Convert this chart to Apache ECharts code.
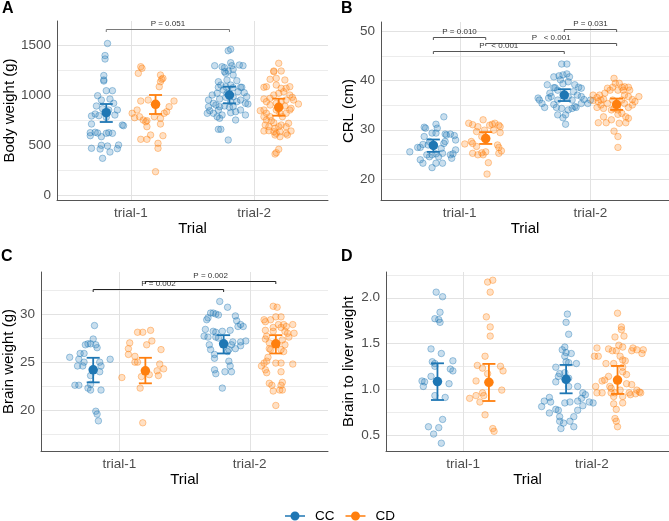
<!DOCTYPE html>
<html><head><meta charset="utf-8">
<script src="https://cdn.jsdelivr.net/npm/echarts@6/dist/echarts.min.js"></script>
<style>html,body{margin:0;padding:0;background:#fff}#c{width:669px;height:521px}</style>
</head><body><div id="c"></div>
<script>
const categories = ['trial-1', 'trial-2'];
const groups = ['CC', 'CD'];

// ---- Panel A: Body weight (g) ---- points are [jitter, value]
const A_CC_1 = [[0.01,1515],[-0.01,1395],[-0.01,1360],[-0.02,1195],[-0.02,1150],[-0.02,1140],[0,1043],[0.05,1043],[-0.07,993],[-0.04,950],[0.03,960],[0.06,917],[-0.08,890],[-0.03,863],[-0.12,790],[-0.06,793],[-0.09,810],[0.09,850],[0.02,850],[0.07,800],[0,777],[-0.12,710],[-0.13,623],[-0.09,627],[-0.07,620],[-0.04,583],[0,617],[0.02,623],[0.05,617],[-0.13,593],[0.13,700],[0.14,693],[-0.04,497],[0.01,490],[0.1,500],[0.09,463],[-0.12,467],[-0.05,460],[0.03,430],[-0.03,367]];
const A_CD_1 = [[-0.12,1283],[-0.11,1267],[-0.14,1217],[0.04,1200],[0.06,1167],[0.04,1133],[0.05,1157],[0.03,1083],[-0.06,950],[-0.12,940],[0.15,940],[0.11,883],[0.09,833],[0.07,817],[-0.15,850],[-0.19,817],[-0.17,773],[-0.13,783],[-0.1,750],[-0.08,733],[-0.07,743],[-0.01,783],[0.04,767],[0.04,710],[-0.07,683],[-0.12,557],[-0.07,557],[-0.04,600],[0.06,593],[0.02,517],[0.02,467],[0,233]];
const A_CC_2 = [[0.01,1457],[-0.01,1443],[-0.12,1293],[-0.06,1283],[-0.04,1273],[0.01,1323],[0.02,1293],[0.08,1300],[0.11,1293],[-0.01,1240],[0.03,1257],[-0.04,1233],[-0.03,1217],[0.03,1200],[-0.02,1150],[0.06,1143],[-0.09,1133],[-0.07,1100],[-0.09,1077],[-0.03,1083],[0.01,1100],[0.03,1073],[0.09,1077],[0.1,1077],[0.12,1023],[0.14,983],[-0.05,1050],[-0.1,1017],[-0.14,1000],[-0.08,960],[-0.03,977],[-0.11,900],[-0.17,883],[-0.16,843],[-0.13,817],[-0.08,883],[-0.04,890],[0,877],[0.03,883],[0.06,933],[0.09,850],[0.13,800],[0.15,910],[0.01,823],[-0.1,783],[-0.08,767],[-0.18,817],[-0.13,917],[0.05,750],[-0.09,657],[-0.07,657],[-0.01,550],[0.07,1033],[0.09,950],[0.13,917],[-0.17,950],[0.03,983],[-0.09,850],[-0.06,800],[0.01,933],[-0.02,1017],[0.05,833]];
const A_CD_2 = [[0,1317],[-0.04,1240],[-0.04,1233],[0.02,1240],[-0.02,1167],[-0.07,1157],[0.05,1150],[-0.1,1083],[-0.12,1077],[-0.02,1100],[0.02,1067],[0.06,1067],[0.09,1083],[0,1017],[0.04,1033],[-0.04,1000],[0.09,1000],[0.11,977],[0.06,950],[0.16,910],[-0.07,967],[-0.12,960],[-0.1,933],[-0.07,900],[-0.02,917],[0.02,933],[0.05,890],[0.1,867],[-0.15,843],[-0.1,817],[-0.12,783],[-0.07,783],[-0.02,850],[0.01,817],[0.06,817],[-0.1,750],[-0.06,743],[-0.11,700],[-0.08,683],[-0.04,723],[0.02,700],[0.08,717],[0,683],[-0.12,640],[-0.08,643],[-0.03,667],[-0.02,617],[0.01,583],[-0.03,600],[0.06,617],[0.07,600],[0.1,640],[-0.04,633],[0.01,633],[0.06,683],[0.03,783],[0,457],[-0.02,423],[-0.03,410],[0.09,850],[0.12,950],[-0.12,850]];
const A_CC_mean = [823, 1000], A_CC_lo = [730, 917], A_CC_hi = [910, 1083];
const A_CD_mean = [907, 877],  A_CD_lo = [810, 793], A_CD_hi = [1000, 963];
const A_ticks = [0, 500, 1000, 1500];
const A_minor = [250, 750, 1250];
const A_brackets = [[0,'CC',1,'CC',1660,'P = 0.051']];

// ---- Panel B: CRL (cm) ----
const B_CC_1 = [[-0.18,25.5],[-0.12,26.4],[-0.1,26.4],[-0.08,27.0],[-0.07,28.6],[-0.07,30.5],[-0.06,30.3],[-0.04,26.9],[-0.03,27.6],[-0.01,29.3],[0.02,29.3],[0.02,31.1],[0.03,30.3],[0.08,32.6],[0.09,29.1],[0.1,28.9],[0.13,29.1],[0.16,28.8],[0.09,27.6],[0.08,27.2],[0.06,26.2],[0.17,27.9],[0.17,25.9],[0.13,24.9],[0.15,25.1],[0.14,24.2],[-0.05,24.9],[-0.03,24.5],[-0.01,24.9],[0.02,25.1],[-0.1,23.9],[0.02,23.2],[0.07,23.2],[-0.08,23.2],[-0.01,22.3],[0.04,24.5],[0.07,25.2]];
const B_CD_1 = [[-0.16,27.1],[-0.13,31.3],[-0.1,31.0],[-0.06,30.6],[-0.02,32.0],[-0.01,29.9],[0.03,30.9],[0.05,31.1],[0.07,31.3],[0.1,30.9],[0.11,30.6],[0.11,29.4],[-0.07,29.6],[-0.11,27.6],[-0.1,27.2],[-0.1,25.2],[-0.07,26.6],[-0.03,25.3],[-0.02,24.9],[0,25.5],[-0.06,24.9],[0.09,26.9],[0.1,26.4],[0.12,25.7],[0.1,25.2],[0.02,23.3],[0.01,21.0],[-0.03,28.6],[0.06,29.9]];
const B_CC_2 = [[-0.2,36.4],[-0.19,36.0],[-0.17,35.3],[-0.15,34.5],[-0.08,35.1],[-0.11,37.4],[-0.08,38.5],[-0.07,38.5],[-0.05,38.0],[-0.03,40.1],[-0.02,43.3],[0.02,43.3],[-0.08,40.7],[-0.04,40.9],[-0.01,41.1],[0.02,41.3],[0.04,40.7],[0.03,39.7],[-0.01,39.3],[0.08,39.1],[0.11,38.6],[0.13,38.4],[0.07,37.7],[0.1,37.0],[0.13,36.7],[0.15,36.1],[0.18,35.3],[0.2,36.0],[0.08,34.7],[0.03,34.0],[-0.02,34.3],[-0.06,34.5],[0.01,33.0],[0.06,34.3],[0.09,34.5],[-0.05,33.0],[-0.01,32.4],[0.01,31.1],[-0.12,36.4],[0.03,36.7],[0.06,36.0],[-0.1,36.7],[-0.05,36.0],[0.13,35.3],[-0.13,39.1]];
const B_CD_2 = [[-0.18,37.0],[-0.15,36.5],[-0.18,35.9],[-0.14,35.7],[-0.12,36.0],[-0.13,37.0],[-0.09,37.4],[-0.1,36.2],[-0.12,35.0],[-0.1,34.3],[-0.15,34.5],[-0.14,31.4],[-0.08,31.4],[-0.1,32.6],[-0.07,38.4],[-0.05,38.0],[-0.03,38.6],[-0.02,40.4],[-0.01,39.4],[0.01,38.0],[0.04,38.6],[0.05,38.0],[0.06,38.7],[0.09,38.6],[0.1,38.0],[0.06,37.0],[0.09,36.7],[0.12,36.1],[0.14,35.7],[0.17,36.7],[0.06,35.3],[0.09,34.5],[0.04,33.3],[0.07,32.6],[0.09,32.3],[0.07,31.4],[0.02,31.3],[0.01,33.1],[-0.04,34.0],[-0.02,34.3],[0.01,34.0],[-0.02,29.7],[0.01,28.6],[0.01,26.4],[-0.04,32.0],[0.04,36.0],[-0.03,36.0],[-0.07,35.3],[0.02,39.4],[0.12,35.0]];
const B_CC_mean = [26.8, 37.0], B_CC_lo = [25.5, 35.8], B_CC_hi = [28.0, 38.2];
const B_CD_mean = [28.2, 35.1], B_CD_lo = [27.1, 34.0], B_CD_hi = [29.5, 36.3];
const B_ticks = [20, 30, 40, 50];
const B_minor = [25, 35, 45];
const B_brackets = [[0,'CC',0,'CD',48.85,'P = 0.010'],[1,'CC',1,'CD',50.4,'P = 0.031'],[0,'CD',1,'CD',47.5,'P   < 0.001'],[0,'CC',1,'CC',45.95,'P   < 0.001']];

// ---- Panel C: Brain weight (g) ----
const C_CC_1 = [[-0.18,25.5],[-0.11,25.3],[-0.1,25.9],[-0.07,25.9],[-0.06,26.8],[-0.04,26.9],[-0.08,24.6],[-0.12,24.6],[-0.07,25.0],[0,27.4],[0.01,28.8],[-0.02,26.9],[0.02,26.8],[0.03,26.5],[0.05,25.0],[0.06,24.6],[0.05,24.0],[0.13,25.3],[-0.02,23.6],[-0.02,22.7],[-0.14,22.6],[-0.11,22.6],[-0.04,22.3],[-0.02,22.1],[0.06,22.1],[0.02,19.9],[0.03,19.6],[0.04,18.9]];
const C_CD_1 = [[-0.18,23.4],[-0.12,27.0],[-0.13,25.8],[-0.13,26.4],[-0.08,25.6],[-0.08,25.0],[-0.06,28.1],[-0.02,28.1],[0.04,28.3],[0.05,27.2],[0.01,26.8],[0.12,26.3],[0.11,24.8],[0.09,24.1],[0.14,24.3],[0.1,23.6],[-0.03,23.5],[-0.04,22.3],[-0.06,25.0],[-0.02,18.7],[0.03,23.7]];
const C_CC_2 = [[-0.14,28.4],[-0.13,29.4],[-0.12,29.6],[-0.1,30.1],[-0.08,30.1],[-0.06,30.0],[-0.04,29.9],[-0.03,31.3],[0.03,30.7],[-0.12,27.6],[-0.11,26.8],[-0.08,28.2],[-0.06,28.1],[-0.04,27.5],[-0.06,27.6],[-0.01,28.2],[0.05,28.3],[0.09,29.8],[0.1,29.3],[0.11,28.7],[0.13,28.9],[0.15,28.7],[0.07,27.1],[0.06,26.8],[0.13,27.1],[0.17,27.2],[0.13,26.7],[0.09,26.4],[0.04,26.3],[0.03,26.1],[-0.07,25.8],[-0.07,25.4],[0.04,25.1],[-0.07,24.2],[0.05,24.6],[-0.06,23.8],[0.01,24.0],[0.06,24.0],[-0.01,22.3],[-0.15,27.7],[-0.1,26.3]];
const C_CD_2 = [[-0.11,24.6],[-0.09,24.9],[-0.08,24.2],[-0.07,23.9],[-0.05,22.8],[-0.03,22.6],[-0.02,22.0],[0.03,22.1],[0.05,22.1],[0.05,22.9],[0.04,22.6],[0,20.5],[0.04,24.0],[0.04,24.9],[0,24.9],[0.13,24.8],[-0.09,29.4],[-0.08,29.2],[-0.08,28.3],[-0.08,27.4],[-0.07,27.7],[-0.05,27.0],[-0.05,26.4],[-0.04,26.3],[-0.06,25.5],[-0.07,25.1],[-0.04,29.4],[-0.02,28.6],[-0.02,28.2],[0,29.7],[0.02,28.9],[0.04,29.7],[0.04,28.6],[0.06,28.9],[0.07,28.2],[0.08,28.7],[0.1,27.6],[0.07,26.8],[0.05,27.3],[0.06,26.1],[0.13,28.9],[0.14,28.0],[-0.02,30.8],[0.01,30.7],[0.04,26.3],[0.09,28.0]];
const C_CC_mean = [24.2, 26.9], C_CC_lo = [22.9, 25.9], C_CC_hi = [25.45, 27.8];
const C_CD_mean = [24.1, 26.9], C_CD_lo = [22.8, 25.9], C_CD_hi = [25.45, 27.8];
const C_ticks = [20, 25, 30];
const C_minor = [17.5, 22.5, 27.5, 32.5];
const C_brackets = [[0,'CC',1,'CC',32.62,'P = 0.002'],[0,'CD',1,'CD',33.45,'P = 0.002']];

// ---- Panel D: Brain to liver weight ----
const D_CC_1 = [[-0.01,2.06],[0.04,2.01],[0.02,1.84],[-0.02,1.77],[0.01,1.76],[0.02,1.73],[-0.05,1.44],[0.03,1.39],[-0.04,1.30],[-0.02,1.28],[-0.02,1.25],[0.12,1.31],[0.1,1.22],[0.12,1.20],[-0.05,1.14],[-0.12,1.09],[-0.1,1.08],[-0.11,1.03],[0.09,1.06],[-0.02,0.93],[0.06,0.91],[-0.07,0.59],[0.01,0.58],[0.04,0.67],[-0.03,0.51],[0.03,0.41]];
const D_CD_1 = [[-0.01,2.17],[0.03,2.19],[0.01,2.06],[-0.02,1.79],[0.01,1.68],[0.01,1.58],[-0.03,1.36],[-0.09,1.26],[-0.05,1.23],[-0.01,1.17],[0.09,1.25],[0.11,1.20],[-0.1,1.09],[0.1,0.99],[-0.15,0.90],[-0.1,0.93],[-0.05,0.96],[-0.04,0.93],[-0.07,0.86],[-0.03,0.72],[0.03,0.57],[0.04,0.54]];
const D_CC_2 = [[0.01,1.82],[0,1.73],[0.02,1.60],[-0.01,1.46],[-0.03,1.43],[0,1.40],[0.04,1.39],[-0.01,1.36],[0,1.30],[0.02,1.29],[0.08,1.28],[-0.08,1.24],[-0.05,1.17],[-0.01,1.18],[-0.08,1.08],[-0.06,1.14],[0.02,1.12],[0.02,1.03],[0.09,1.03],[0.13,0.96],[0.15,0.94],[0.12,0.90],[0.03,0.86],[0.09,0.87],[-0.01,0.85],[-0.13,0.91],[-0.12,0.86],[-0.17,0.87],[-0.19,0.81],[-0.13,0.74],[-0.06,0.77],[-0.05,0.70],[-0.05,0.65],[-0.02,0.63],[0.03,0.65],[0.06,0.70],[0.13,0.82],[0.18,0.86],[0.09,0.77],[-0.04,0.57],[0.06,0.59],[-0.08,0.78],[0.21,0.85]];
const D_CD_2 = [[0,1.83],[0.03,1.68],[0.03,1.65],[-0.02,1.57],[0.05,1.58],[-0.16,1.45],[-0.18,1.36],[-0.15,1.36],[-0.07,1.44],[-0.04,1.42],[-0.01,1.42],[0.01,1.48],[0.04,1.46],[0.02,1.36],[0.04,1.32],[0.06,1.31],[0.12,1.45],[0.11,1.42],[0.15,1.43],[0.2,1.43],[0.19,1.39],[-0.09,1.28],[-0.03,1.28],[0.04,1.24],[0.07,1.16],[0.04,1.19],[-0.07,1.14],[-0.1,1.10],[-0.12,1.09],[-0.17,1.03],[-0.16,0.96],[-0.12,0.96],[-0.06,1.03],[-0.05,1.01],[-0.05,0.96],[-0.02,0.96],[0.02,0.99],[0.07,1.06],[0.11,1.05],[0.09,0.96],[0.15,0.99],[0.17,0.97],[0.14,0.95],[0.18,0.96],[0.1,0.94],[0.04,0.92],[-0.03,0.92],[-0.03,0.84],[-0.01,0.78],[-0.02,0.68],[-0.01,0.65],[0,0.59],[0.04,0.85]];
const D_CC_mean = [1.083, 1.108], D_CC_lo = [0.882, 0.955], D_CC_hi = [1.283, 1.265];
const D_CD_mean = [1.075, 1.10],  D_CD_lo = [0.871, 0.948], D_CD_hi = [1.276, 1.254];
const D_ticks = [0.5, 1.0, 1.5, 2.0];
const D_minor = [0.75, 1.25, 1.75, 2.25];

// ---------------- layout / style ----------------
const FONT = '"Liberation Sans", Arial, sans-serif';
const COL = { CC: '#1f77b4', CD: '#ff7f0e' };
const FILL = { CC: 'rgba(31,119,180,0.3)', CD: 'rgba(255,127,14,0.3)' };
const EDGE = { CC: 'rgba(31,119,180,0.55)', CD: 'rgba(255,127,14,0.55)' };
const DODGE = { CC: -0.2, CD: 0.2 };
const pos = (ti, g) => ti + 1 + DODGE[g];

const panels = [
  { letter: 'A', yName: 'Body weight (g)', grid: { left: 57, top: 21, width: 271, height: 179 }, yMin: -50, yMax: 1740, nameGap: 40,
    ticks: A_ticks, minor: A_minor, fmt: v => String(v), brackets: A_brackets, bColor: '#7a7a7a',
    pts: { CC: [A_CC_1, A_CC_2], CD: [A_CD_1, A_CD_2] }, mean: { CC: A_CC_mean, CD: A_CD_mean }, lo: { CC: A_CC_lo, CD: A_CD_lo }, hi: { CC: A_CC_hi, CD: A_CD_hi }, titlePos: [2, 1] },
  { letter: 'B', yName: 'CRL (cm)', grid: { left: 381, top: 22, width: 288, height: 178 }, yMin: 15.74, yMax: 51.82, nameGap: 24,
    ticks: B_ticks, minor: B_minor, fmt: v => String(v), brackets: B_brackets, bColor: '#555',
    pts: { CC: [B_CC_1, B_CC_2], CD: [B_CD_1, B_CD_2] }, mean: { CC: B_CC_mean, CD: B_CD_mean }, lo: { CC: B_CC_lo, CD: B_CD_lo }, hi: { CC: B_CC_hi, CD: B_CD_hi }, titlePos: [341, 1] },
  { letter: 'C', yName: 'Brain weight (g)', grid: { left: 41, top: 272, width: 287, height: 179 }, yMin: 15.77, yMax: 34.36, nameGap: 24,
    ticks: C_ticks, minor: C_minor, fmt: v => String(v), brackets: C_brackets, bColor: '#222',
    pts: { CC: [C_CC_1, C_CC_2], CD: [C_CD_1, C_CD_2] }, mean: { CC: C_CC_mean, CD: C_CD_mean }, lo: { CC: C_CC_lo, CD: C_CD_lo }, hi: { CC: C_CC_hi, CD: C_CD_hi }, titlePos: [1, 249] },
  { letter: 'D', yName: 'Brain to liver weight', grid: { left: 386, top: 272, width: 283, height: 179 }, yMin: 0.325, yMax: 2.28, nameGap: 30,
    ticks: D_ticks, minor: D_minor, fmt: v => v.toFixed(1), brackets: [], bColor: '#555',
    pts: { CC: [D_CC_1, D_CC_2], CD: [D_CD_1, D_CD_2] }, mean: { CC: D_CC_mean, CD: D_CD_mean }, lo: { CC: D_CC_lo, CD: D_CD_lo }, hi: { CC: D_CC_hi, CD: D_CD_hi }, titlePos: [341, 249] }
];

const grids = [], xAxes = [], yAxes = [], series = [], titles = [];

function hLineRender(color) {
  return function (params, api) {
    const cs = params.coordSys;
    const y = Math.round(api.coord([1, api.value(1)])[1]) + 0.5;
    return { type: 'line', silent: true, shape: { x1: cs.x, y1: y, x2: cs.x + cs.width, y2: y }, style: { stroke: color, lineWidth: 1 } };
  };
}
function vLineRender(color) {
  return function (params, api) {
    const cs = params.coordSys;
    const x = Math.round(api.coord([api.value(0), 1])[0]) + 0.5;
    return { type: 'line', silent: true, shape: { x1: x, y1: cs.y, x2: x, y2: cs.y + cs.height }, style: { stroke: color, lineWidth: 1 } };
  };
}

panels.forEach((p, gi) => {
  grids.push(Object.assign({ containLabel: false }, p.grid));
  titles.push({ text: p.letter, left: p.titlePos[0], top: p.titlePos[1], padding: 0,
    textStyle: { fontSize: 16, fontWeight: 'bold', color: '#000', fontFamily: FONT } });
  xAxes.push({
    gridIndex: gi, type: 'value', min: 0.4, max: 2.6,
    axisLine: { show: true, onZero: false, lineStyle: { color: '#555', width: 1 } },
    axisTick: { show: false }, splitLine: { show: false },
    axisLabel: { customValues: [1, 2], formatter: v => categories[Math.round(v) - 1], fontSize: 13.5, color: '#4d4d4d', margin: 6, fontFamily: FONT },
    name: 'Trial', nameLocation: 'middle', nameGap: 21,
    nameTextStyle: { fontSize: 15, color: '#000', fontFamily: FONT }
  });
  yAxes.push({
    gridIndex: gi, type: 'value', min: p.yMin, max: p.yMax,
    axisLine: { show: true, onZero: false, lineStyle: { color: '#555', width: 1 } },
    axisTick: { show: false }, splitLine: { show: false },
    axisLabel: { customValues: p.ticks, formatter: p.fmt, fontSize: 13.5, color: '#4d4d4d', margin: 6, fontFamily: FONT },
    name: p.yName, nameLocation: 'middle', nameRotate: 90, nameGap: p.nameGap,
    nameTextStyle: { fontSize: 15, color: '#000', fontFamily: FONT }
  });
  const yMid = (p.yMin + p.yMax) / 2;
  // grid lines
  series.push({ type: 'custom', name: 'gridMinor' + gi, xAxisIndex: gi, yAxisIndex: gi, z: 0, silent: true, animation: false,
    data: p.minor.map(v => [1.5, v]), encode: { x: 0, y: 1 }, renderItem: hLineRender('#ececec') });
  series.push({ type: 'custom', name: 'gridMajor' + gi, xAxisIndex: gi, yAxisIndex: gi, z: 0, silent: true, animation: false,
    data: p.ticks.map(v => [1.5, v]), encode: { x: 0, y: 1 }, renderItem: hLineRender('#e2e2e2') });
  series.push({ type: 'custom', name: 'gridV' + gi, xAxisIndex: gi, yAxisIndex: gi, z: 0, silent: true, animation: false,
    data: categories.map((c, i) => [i + 1, yMid]), encode: { x: 0, y: 1 }, renderItem: vLineRender('#e2e2e2') });

  groups.forEach(g => {
    // jittered points
    const data = [];
    p.pts[g].forEach((arr, ti) => arr.forEach(([j, v]) => data.push([pos(ti, g) + j, v])));
    series.push({ type: 'scatter', name: g + '-points', xAxisIndex: gi, yAxisIndex: gi, z: 2, animation: false, silent: true,
      symbol: 'circle', symbolSize: 6.5, data,
      itemStyle: { color: FILL[g], borderColor: EDGE[g], borderWidth: 0.9 } });
    // error bars
    series.push({ type: 'custom', name: g + '-err', xAxisIndex: gi, yAxisIndex: gi, z: 3, animation: false, silent: true,
      data: categories.map((c, ti) => [pos(ti, g), p.lo[g][ti], p.hi[g][ti]]),
      encode: { x: 0, y: [1, 2] },
      renderItem: (params, api) => {
        const a = api.coord([api.value(0), api.value(1)]);
        const b = api.coord([api.value(0), api.value(2)]);
        const w = 6.5;
        const st = { stroke: COL[g], lineWidth: 1.8 };
        return { type: 'group', children: [
          { type: 'line', shape: { x1: a[0], y1: a[1], x2: b[0], y2: b[1] }, style: st },
          { type: 'line', shape: { x1: a[0] - w, y1: a[1], x2: a[0] + w, y2: a[1] }, style: st },
          { type: 'line', shape: { x1: b[0] - w, y1: b[1], x2: b[0] + w, y2: b[1] }, style: st }
        ] };
      } });
    // means
    series.push({ type: 'scatter', name: g, xAxisIndex: gi, yAxisIndex: gi, z: 4, animation: false, silent: true,
      symbol: 'circle', symbolSize: 9.5,
      data: categories.map((c, ti) => [pos(ti, g), p.mean[g][ti]]),
      itemStyle: { color: COL[g], opacity: 1 } });
  });

  if (p.brackets.length) {
    series.push({ type: 'custom', name: 'brackets' + gi, xAxisIndex: gi, yAxisIndex: gi, z: 5, animation: false, silent: true,
      data: p.brackets.map(b => [pos(b[0], b[1]), pos(b[2], b[3]), b[4]]),
      encode: { x: [0, 1], y: 2 },
      renderItem: (params, api) => {
        const a = api.coord([api.value(0), api.value(2)]);
        const b = api.coord([api.value(1), api.value(2)]);
        const t = 2.5;
        const y = Math.round(a[1]) + 0.5;
        return { type: 'group', children: [
          { type: 'polyline', shape: { points: [[a[0], y + t], [a[0], y], [b[0], y], [b[0], y + t]] },
            style: { stroke: p.bColor, lineWidth: 1, fill: null } },
          { type: 'text', style: { text: p.brackets[params.dataIndex][5], x: (a[0] + b[0]) / 2, y: y - 1.5,
            align: 'center', verticalAlign: 'bottom', fontSize: 8, fill: '#333', fontFamily: FONT } }
        ] };
      } });
  }
});

const chart = echarts.init(document.getElementById('c'), null, { renderer: 'canvas' });
chart.setOption({
  backgroundColor: '#fff',
  animation: false,
  title: titles,
  grid: grids, xAxis: xAxes, yAxis: yAxes,
  legend: {
    data: groups, left: 285, top: 509, padding: 0, itemWidth: 20, itemHeight: 9, itemGap: 11,
    icon: 'path://M0,3.8H5.6V5.2H0Z M14.4,3.8H20V5.2H14.4Z M14.5,4.5A4.5,4.5 0 1,1 5.5,4.5A4.5,4.5 0 1,1 14.5,4.5Z',
    textStyle: { fontSize: 13.5, color: '#000', fontFamily: FONT, padding: [0, 0, 0, 5] }
  },
  series
});
</script></body></html>
